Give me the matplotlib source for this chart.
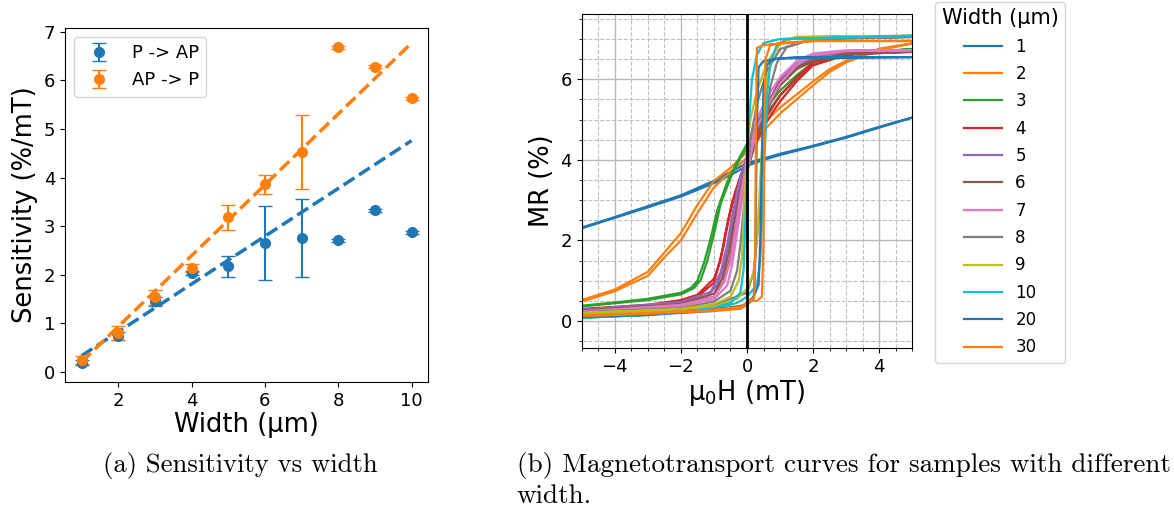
import matplotlib
matplotlib.use("Agg")
import matplotlib.pyplot as plt
from matplotlib.ticker import MultipleLocator

# ---- (a) sensitivity vs width ----
widths = [1, 2, 3, 4, 5, 6, 7, 8, 9, 10]
sens_p_ap = [0.19, 0.74, 1.45, 2.04, 2.17, 2.66, 2.76, 2.71, 3.33, 2.87]
err_p_ap = [0.05, 0.08, 0.10, 0.04, 0.22, 0.76, 0.80, 0.03, 0.03, 0.03]
sens_ap_p = [0.24, 0.80, 1.53, 2.13, 3.18, 3.86, 4.53, 6.68, 6.28, 5.63]
err_ap_p = [0.08, 0.14, 0.16, 0.08, 0.25, 0.19, 0.76, 0.03, 0.03, 0.03]
fit_x = [1, 10]
fit_p_ap = [0.33, 4.76]
fit_ap_p = [0.20, 6.77]

# ---- (b) MR loops, field up (-5 -> 5) then field down (5 -> -5) ----
w1_h = [-5, -4, -3, -2, -1, -0.5, 0, 0.5, 1, 2, 3, 4, 5,
        4, 3, 2, 1, 0, -1, -2, -3, -4, -5]
w1_mr = [2.30, 2.56, 2.82, 3.09, 3.42, 3.62, 3.85, 4.00, 4.12, 4.33, 4.55, 4.80, 5.05,
         4.82, 4.57, 4.35, 4.15, 3.92, 3.48, 3.12, 2.85, 2.58, 2.32]

w2_h = [-5, -4, -3, -2.5, -2, -1.5, -1, -0.5, 0, 0.5, 1, 1.5, 2, 2.5, 3, 4, 5,
        4, 3, 2.5, 2, 1.5, 1, 0.5, 0, -0.5, -1, -1.5, -2, -2.5, -3, -4, -5]
w2_mr = [0.48, 0.74, 1.12, 1.58, 2.00, 2.68, 3.32, 3.70, 4.05, 4.72, 5.15, 5.50, 5.85, 6.18, 6.42, 6.72, 6.89,
         6.76, 6.46, 6.25, 5.95, 5.62, 5.30, 4.90, 4.20, 3.80, 3.48, 2.88, 2.18, 1.70, 1.22, 0.78, 0.52]

w3_h = [-5, -4, -3, -2, -1.6, -1.4, -1.2, -1.0, -0.8, -0.5, -0.2, 0, 0.25, 0.5, 1, 1.5, 2, 3, 5,
        3, 2, 1.5, 1, 0.5, 0.25, 0, -0.3, -0.6, -0.9, -1.1, -1.3, -1.5, -1.7, -2, -3, -4, -5]
w3_mr = [0.36, 0.44, 0.52, 0.66, 0.82, 1.02, 1.50, 2.15, 2.90, 3.55, 4.05, 4.30, 4.70, 5.05, 5.60, 6.00, 6.35, 6.62, 6.75,
         6.65, 6.42, 6.10, 5.72, 5.20, 4.85, 4.40, 3.95, 3.45, 2.75, 2.05, 1.45, 1.00, 0.82, 0.70, 0.55, 0.46, 0.38]

w4_h = [-5, -3, -2, -1.5, -1.0, -0.9, -0.7, -0.55, -0.35, -0.1, 0.2, 0.5, 0.75, 1, 1.5, 2, 3, 5,
        3, 2, 1.5, 1, 0.5, 0.2, 0, -0.2, -0.45, -0.65, -0.8, -1.0, -1.5, -2, -3, -5]
w4_mr = [0.28, 0.38, 0.48, 0.60, 0.95, 1.25, 1.90, 2.55, 3.20, 3.75, 4.30, 4.80, 5.15, 5.45, 5.95, 6.35, 6.60, 6.70,
         6.62, 6.42, 6.05, 5.60, 4.95, 4.45, 4.05, 3.60, 2.95, 2.20, 1.50, 1.05, 0.65, 0.52, 0.40, 0.30]

w5_h = [-5, -2, -1.2, -0.9, -0.7, -0.55, -0.4, -0.2, 0, 0.25, 0.5, 0.75, 1, 1.5, 2, 3, 5,
        3, 2, 1.5, 1, 0.5, 0.25, 0, -0.25, -0.45, -0.6, -0.8, -1.1, -2, -5]
w5_mr = [0.26, 0.44, 0.62, 0.90, 1.35, 1.95, 2.65, 3.35, 3.95, 4.50, 5.05, 5.50, 5.85, 6.30, 6.55, 6.68, 6.72,
         6.70, 6.58, 6.38, 6.00, 5.20, 4.70, 4.15, 3.40, 2.60, 1.90, 1.20, 0.72, 0.47, 0.28]

w6_h = [-5, -2, -1, -0.7, -0.5, -0.35, -0.2, 0, 0.25, 0.5, 0.75, 1, 1.5, 2, 3, 5,
        3, 2, 1.5, 1, 0.5, 0.25, 0, -0.2, -0.4, -0.55, -0.75, -1, -2, -5]
w6_mr = [0.24, 0.40, 0.60, 0.98, 1.60, 2.30, 3.00, 3.70, 4.40, 5.00, 5.50, 5.85, 6.25, 6.45, 6.62, 6.68,
         6.64, 6.48, 6.30, 5.95, 5.15, 4.60, 3.95, 3.25, 2.40, 1.70, 1.05, 0.68, 0.42, 0.26]

w7_h = [-5, -2, -1, -0.6, -0.45, -0.3, -0.15, 0, 0.3, 0.6, 1, 1.5, 2, 3, 5,
        3, 2, 1.5, 1, 0.6, 0.3, 0, -0.2, -0.35, -0.5, -0.7, -1, -2, -5]
w7_mr = [0.22, 0.37, 0.54, 0.88, 1.40, 2.20, 3.00, 3.70, 4.80, 5.30, 5.90, 6.35, 6.60, 6.70, 6.72,
         6.72, 6.64, 6.45, 6.05, 5.55, 5.00, 4.00, 3.10, 2.30, 1.50, 0.95, 0.60, 0.40, 0.24]

w8_h = [-5, -2, -1, 0, 0.2, 0.35, 0.5, 0.7, 0.9, 1.2, 2, 5,
        2, 1, 0.6, 0.3, 0.1, 0, -0.1, -0.2, -0.3, -0.5, -1, -2, -5]
w8_mr = [0.20, 0.28, 0.40, 0.70, 1.20, 2.50, 4.30, 5.80, 6.40, 6.80, 7.00, 7.05,
         7.00, 6.75, 6.20, 5.40, 4.50, 3.70, 2.80, 1.90, 1.25, 0.75, 0.48, 0.32, 0.22]

w9_h = [-5, -2, -1, -0.3, 0, 0.2, 0.3, 0.4, 0.5, 0.6, 0.8, 1.0, 1.5, 5,
        1.5, 1, 0.6, 0.3, 0.1, 0, -0.05, -0.1, -0.15, -0.25, -0.5, -1, -2, -5]
w9_mr = [0.20, 0.28, 0.35, 0.55, 0.80, 1.20, 2.00, 3.50, 5.00, 6.00, 6.60, 6.90, 7.05, 7.08,
         7.05, 6.90, 6.40, 5.70, 5.00, 4.30, 3.50, 2.50, 1.60, 1.00, 0.60, 0.42, 0.30, 0.20]

w10_h = [-5, -3, -1, -0.3, 0, 0.3, 0.4, 0.5, 0.6, 0.7, 0.9, 1.2, 5,
         1, 0.5, 0.3, 0.15, 0.05, 0, -0.05, -0.1, -0.2, -0.5, -1, -3, -5]
w10_mr = [0.08, 0.15, 0.30, 0.45, 0.60, 0.90, 1.50, 3.50, 5.50, 6.40, 6.85, 7.00, 7.08,
          7.00, 6.90, 6.60, 6.00, 4.80, 3.80, 2.50, 1.30, 0.70, 0.45, 0.32, 0.15, 0.08]

w20_h = [-5, -3, -1, -0.2, 0, 0.2, 0.35, 0.4, 0.45, 0.5, 0.6, 0.8, 1.5, 5,
         1, 0.5, 0.35, 0.3, 0.27, 0.24, 0.2, 0, -1, -3, -5]
w20_mr = [0.10, 0.15, 0.25, 0.35, 0.45, 0.60, 0.90, 2.00, 4.00, 5.80, 6.35, 6.50, 6.55, 6.55,
          6.52, 6.45, 6.30, 5.00, 3.00, 1.20, 0.55, 0.40, 0.28, 0.18, 0.12]

w30_h = [-5, -3, -1, -0.2, 0, 0.1, 0.3, 0.45, 0.5, 0.53, 0.56, 0.7, 1.0, 2, 5,
         2, 0.5, 0.3, 0.27, 0.25, 0.22, 0.1, 0, -0.2, -1, -3, -5]
w30_mr = [0.12, 0.18, 0.25, 0.30, 0.40, 0.50, 0.50, 0.60, 2.00, 5.00, 6.50, 6.85, 6.90, 6.95, 6.95,
          6.95, 6.85, 6.78, 5.00, 2.00, 0.60, 0.50, 0.45, 0.35, 0.28, 0.20, 0.15]

loop_labels = ["1", "2", "3", "4", "5", "6", "7", "8", "9", "10", "20", "30"]
loop_h = [w1_h, w2_h, w3_h, w4_h, w5_h, w6_h, w7_h, w8_h, w9_h, w10_h, w20_h, w30_h]
loop_mr = [w1_mr, w2_mr, w3_mr, w4_mr, w5_mr, w6_mr, w7_mr, w8_mr, w9_mr, w10_mr, w20_mr, w30_mr]

fig = plt.figure(figsize=(11.74, 5.15), dpi=100)

# left panel
ax1 = fig.add_axes([0.0554, 0.2583, 0.3092, 0.6873])
ax1.errorbar(widths, sens_p_ap, yerr=err_p_ap, fmt='o', ms=7, capsize=5, color='C0', label='P -> AP')
ax1.errorbar(widths, sens_ap_p, yerr=err_ap_p, fmt='o', ms=7, capsize=5, color='C1', label='AP -> P')
ax1.plot(fit_x, fit_p_ap, '--', color='C0', lw=2.5)
ax1.plot(fit_x, fit_ap_p, '--', color='C1', lw=2.5)
ax1.set_xlim(0.55, 10.45)
ax1.set_ylim(-0.21, 7.08)
ax1.set_xticks([2, 4, 6, 8, 10])
ax1.set_yticks(range(8))
ax1.tick_params(labelsize=13)
ax1.set_xlabel('Width (µm)', fontsize=18.5, labelpad=2)
ax1.set_ylabel('Sensitivity (%/mT)', fontsize=18.5, labelpad=4)
ax1.legend(loc='upper left', fontsize=13)

# right panel
ax2 = fig.add_axes([0.4955, 0.3243, 0.2816, 0.6485])
for lab, hh, mm in zip(loop_labels, loop_h, loop_mr):
    ax2.plot(hh, mm, lw=1.6, label=lab)
ax2.axvline(0, color='k', lw=2)
ax2.set_xlim(-5, 5)
ax2.set_ylim(-0.67, 7.62)
ax2.xaxis.set_major_locator(MultipleLocator(2))
ax2.yaxis.set_major_locator(MultipleLocator(2))
ax2.xaxis.set_minor_locator(MultipleLocator(0.5))
ax2.yaxis.set_minor_locator(MultipleLocator(0.5))
ax2.grid(which='major', color='0.72', lw=1.0)
ax2.grid(which='minor', color='0.75', lw=0.8, linestyle='--')
ax2.tick_params(labelsize=13)
ax2.set_xlabel('μ$_0$H (mT)', fontsize=18.5, labelpad=2)
ax2.set_ylabel('MR (%)', fontsize=18.5)
ax2.legend(title='Width (µm)', fontsize=12, title_fontsize=15, handlelength=2.3,
           labelspacing=0.56, borderaxespad=0.1,
           loc='upper left', bbox_to_anchor=(0.795, 1.0), bbox_transform=fig.transFigure)

# captions
fig.text(103 / 1174, 1 - 452 / 515, '(a) Sensitivity vs width', family='cmr10', fontsize=19.2, va='top')
fig.text(517 / 1174, 1 - 452 / 515, '(b) Magnetotransport curves for samples with different\nwidth.',
         family='cmr10', fontsize=19.5, va='top', linespacing=1.3)

fig.savefig('out.png', dpi=100)
